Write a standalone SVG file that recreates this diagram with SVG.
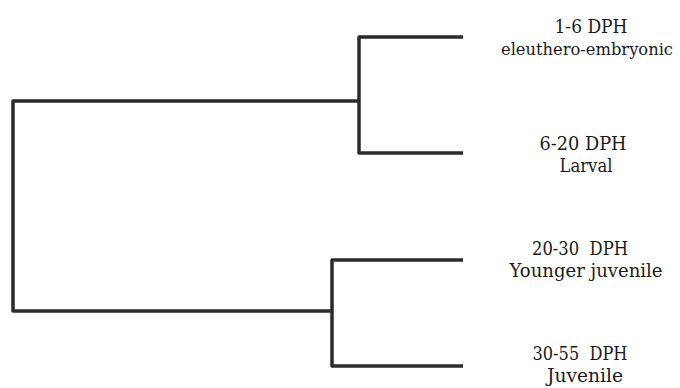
<svg xmlns="http://www.w3.org/2000/svg" width="680" height="388" viewBox="0 0 680 388">
  <style>
    .branch { fill: none; stroke: #2b2b2b; stroke-width: 3.5; stroke-linejoin: round; stroke-linecap: butt; }
    .lbl { font-family: "DejaVu Serif", "Liberation Serif", serif; font-size: 18.5px; fill: #1a1a1a; text-anchor: middle; }
    .long { font-size: 16.5px; }
  </style>
  <rect width="680" height="388" fill="#ffffff"/>

  <!-- dendrogram branches -->
  <g id="connectors">
    <path class="branch" d="M359,101 H13 V311 H332"/>
    <path class="branch" d="M463,37 H359 V153 H463"/>
    <path class="branch" d="M463,260 H332 V366 H463"/>
  </g>

  <!-- leaf labels, widths fixed so the serif face keeps a compact set -->
  <g id="labels">
    <g id="leaf-1-6">
      <text class="lbl" x="591" y="33" textLength="73" lengthAdjust="spacingAndGlyphs">1-6 DPH</text>
      <text class="lbl long" x="587" y="55" textLength="172" lengthAdjust="spacingAndGlyphs">eleuthero-embryonic</text>
    </g>
    <g id="leaf-6-20">
      <text class="lbl" x="583" y="150" textLength="87" lengthAdjust="spacingAndGlyphs">6-20 DPH</text>
      <text class="lbl" x="586" y="172" textLength="53" lengthAdjust="spacingAndGlyphs">Larval</text>
    </g>
    <g id="leaf-20-30">
      <text class="lbl" x="580" y="255" textLength="96" lengthAdjust="spacingAndGlyphs" xml:space="preserve">20-30  DPH</text>
      <text class="lbl" x="586" y="277" textLength="153" lengthAdjust="spacingAndGlyphs">Younger juvenile</text>
    </g>
    <g id="leaf-30-55">
      <text class="lbl" x="580" y="360" textLength="95" lengthAdjust="spacingAndGlyphs" xml:space="preserve">30-55  DPH</text>
      <text class="lbl" x="585" y="382" textLength="76" lengthAdjust="spacingAndGlyphs">Juvenile</text>
    </g>
  </g>
</svg>
